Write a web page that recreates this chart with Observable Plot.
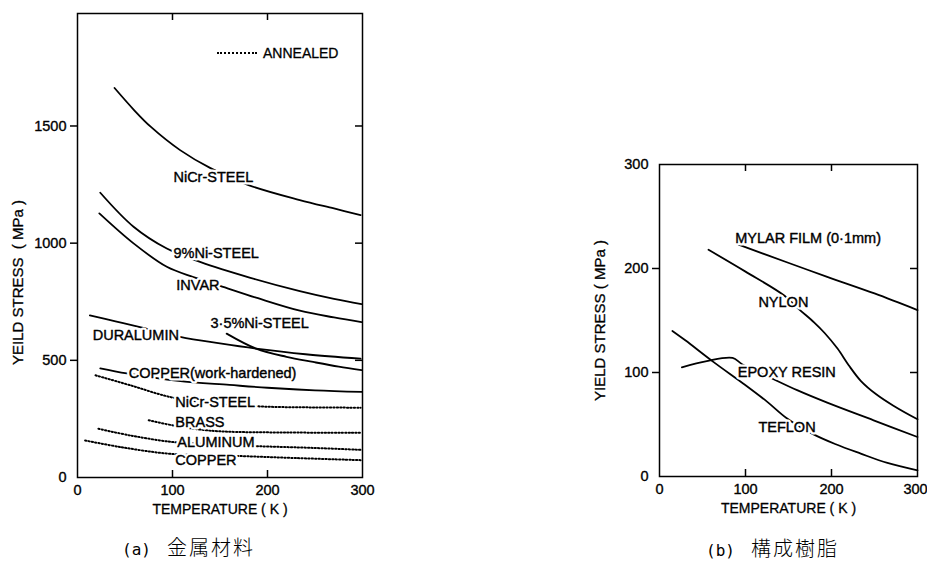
<!DOCTYPE html>
<html>
<head>
<meta charset="utf-8">
<script src="https://cdn.jsdelivr.net/npm/d3@7"></script>
<script src="https://cdn.jsdelivr.net/npm/@observablehq/plot@0.6"></script>
<style>
  body { margin: 0; background: #fff; }
  #wrap { position: relative; width: 927px; height: 562px; overflow: hidden; background: #fff;
          font-family: "Liberation Sans", Arial, sans-serif; color: #000; }
  #wrap svg { position: absolute; top: 0; }
  .legend { position: absolute; left: 217px; top: 45px; height: 16px; display: flex; align-items: center; font-size: 14px;
            -webkit-text-stroke: 0.3px #000; }
  .legend .dots { width: 40px; border-top: 2px dotted #000; margin-right: 6px; }
  .cap { position: absolute; white-space: nowrap; line-height: 24px; }
  .cap .tag { font-family: "DejaVu Sans Mono", "Liberation Mono", monospace; font-size: 16px; margin-right: 16px; }
  .cap .jp { font-family: "Noto Sans CJK JP", sans-serif; font-size: 20px; letter-spacing: 2px; font-weight: 300; }
</style>
</head>
<body>
<div id="wrap">
  <div class="legend"><span class="dots"></span><span>ANNEALED</span></div>
  <div class="cap" style="left:122px; top:535px;"><span class="tag">(a)</span><span class="jp">金属材料</span></div>
  <div class="cap" style="left:706px; top:536px;"><span class="tag">(b)</span><span class="jp">構成樹脂</span></div>
</div>
<script>
// ---------- (a) metals: temperature (K) vs yield stress (MPa) ----------
// solid curves
const nicrT = [39, 60, 77, 108, 140, 180, 234, 270, 298];
const nicrS = [1662, 1566, 1497, 1397, 1320, 1248, 1184, 1148, 1120];
const ni9T = [24, 59, 94, 129, 182, 234, 270, 299];
const ni9S = [1215, 1070, 977, 920, 852, 795, 762, 740];
const invarT = [23, 59, 94, 122, 150, 190, 234, 270, 299];
const invarS = [1127, 999, 899, 855, 818, 765, 712, 683, 663];
const duralT = [13, 40, 68, 108, 150, 188, 240, 298];
const duralS = [692, 666, 640, 600, 572, 550, 526, 507];
const ni35T = [157, 188, 220, 248, 275, 299];
const ni35S = [614, 550, 515, 493, 473, 458];
const cuHardT = [24, 52, 106, 160, 200, 250, 299];
const cuHardS = [466, 444, 412, 395, 383, 372, 365];
// dotted curves (annealed)
const nicrAnT = [19, 56, 98, 140, 194, 250, 298];
const nicrAnS = [436, 393, 343, 318, 303, 299, 298];
const brassT = [75, 101, 130, 155, 220, 298];
const brassS = [244, 222, 204, 196, 192, 191];
const alT = [22, 56, 101, 140, 187, 250, 298];
const alS = [208, 179, 151, 142, 134, 126, 118];
const cuT = [8, 45, 98, 168, 230, 298];
const cuS = [158, 130, 101, 92, 83, 74];

// curve labels for (a): text, temperature and stress at the label's left end
const labelsA = ["NiCr-STEEL", "9%Ni-STEEL", "INVAR", "DURALUMIN", "3·5%Ni-STEEL",
  "COPPER(work-hardened)", "NiCr-STEEL", "BRASS", "ALUMINUM", "COPPER"];
const labelsAT = [101, 101, 104, 16, 140, 54, 103, 103, 105, 103];
const labelsAS = [1282, 957, 820, 607, 658, 444, 320, 235, 151, 73];

// ---------- (b) synthetic resins ----------
const mylarT = [92, 148, 195, 250, 300];
const mylarS = [223, 206, 192, 176, 160];
const nylonT = [57, 100, 145, 162, 180, 192, 207, 220, 234, 252, 272, 300];
const nylonS = [218, 197, 174, 161, 148, 138, 123, 107, 92, 79, 68, 55];
const epoxyT = [26, 55, 85, 96, 129, 160, 195, 249, 300];
const epoxyS = [105, 111, 114, 108, 95, 83, 71, 54, 38];
const teflonT = [15, 30, 63, 98, 125, 148, 178, 205, 234, 265, 300];
const teflonS = [140, 131, 110, 89, 72, 56, 41, 31, 22, 13, 6];

const labelsB = ["MYLAR FILM (0·1mm)", "NYLON", "EPOXY RESIN", "TEFLON"];
const labelsBT = [88, 115, 91, 115];
const labelsBS = [229, 167, 100, 47];

// axis ticks
const xTicks = [0, 100, 200];
const xLastTick = [300];
const xInner = [100, 200];
const yTicksA = [0, 500, 1000, 1500];
const yInnerA = [500, 1000, 1500];
const yTicksB = [0, 100, 200, 300];
const yInnerB = [100, 200];

// ---------- helpers ----------
const rows = (name, T, S) => T.map((t, i) => ({name, T: t, S: S[i]}));
const labelRows = (names, T, S) => names.map((n, i) => ({name: n, T: T[i], S: S[i]}));

const solidA = [
  ...rows("NiCr", nicrT, nicrS), ...rows("9Ni", ni9T, ni9S), ...rows("Invar", invarT, invarS),
  ...rows("Dural", duralT, duralS), ...rows("3.5Ni", ni35T, ni35S), ...rows("CuHard", cuHardT, cuHardS)
];
const dottedA = [
  ...rows("NiCrAn", nicrAnT, nicrAnS), ...rows("Brass", brassT, brassS),
  ...rows("Al", alT, alS), ...rows("Cu", cuT, cuS)
];
const solidB = [
  ...rows("Mylar", mylarT, mylarS), ...rows("Nylon", nylonT, nylonS),
  ...rows("Epoxy", epoxyT, epoxyS), ...rows("Teflon", teflonT, teflonS)
];

const font = {fontFamily: "'Liberation Sans', Arial, sans-serif", fontSize: "14px", color: "#000", background: "transparent", overflow: "visible"};
const fmt = d => String(d);
const bold = {textStroke: "#000", textStrokeWidth: 0.35};

function framedMarks({plotW, plotH, yTicks, yInner, yLabel, yLabelDy, labels, lines, dotted, lastDx}) {
  const lineOpts = {x: "T", y: "S", z: "name", curve: "catmull-rom", stroke: "#000", strokeWidth: 1.8};
  return [
    Plot.line(lines, lineOpts),
    dotted ? Plot.line(dotted, {...lineOpts, strokeWidth: 2, strokeDasharray: "1.3,2.1"}) : null,
    // white halo opens a gap in the curve under each label
    Plot.text(labels, {x: "T", y: "S", text: "name", textAnchor: "start", fontSize: 14.5, fill: "#fff", stroke: "#fff", strokeWidth: 5}),
    Plot.text(labels, {x: "T", y: "S", text: "name", textAnchor: "start", fontSize: 14.5, fill: "#000", stroke: "#000", strokeWidth: 0.4}),
    Plot.frame({stroke: "#000", strokeWidth: 1.5}),
    // tick labels
    Plot.axisX(xTicks, {anchor: "bottom", tickSize: 0, tickPadding: 7, label: null, fontSize: 14.5, tickFormat: fmt, ...bold}),
    Plot.axisX(xLastTick, {anchor: "bottom", tickSize: 0, tickPadding: 7, label: null, fontSize: 14.5, tickFormat: fmt, dx: lastDx, ...bold}),
    Plot.axisY(yTicks, {anchor: "left", tickSize: 0, tickPadding: 11, label: null, fontSize: 14.5, tickFormat: fmt, ...bold}),
    // outward ticks on the left, inward ticks on the other three sides
    Plot.tickY(yInner, {y: d => d, insetLeft: -7, insetRight: plotW, strokeWidth: 1.5}),
    Plot.tickY(yInner, {y: d => d, insetLeft: plotW - 7, strokeWidth: 1.5}),
    Plot.tickX(xInner, {x: d => d, insetTop: plotH - 7, strokeWidth: 1.5}),
    Plot.tickX(xInner, {x: d => d, insetBottom: plotH - 7, strokeWidth: 1.5}),
    // axis titles
    Plot.text(["TEMPERATURE ( K )"], {frameAnchor: "bottom", textAnchor: "middle", dy: 36, fontSize: 14, fill: "#000", stroke: "#000", strokeWidth: 0.3}),
    Plot.text([yLabel], {frameAnchor: "left", textAnchor: "middle", rotate: -90, dx: -59, dy: yLabelDy, fontSize: 15, fill: "#000", stroke: "#000", strokeWidth: 0.3})
  ];
}

// (a)
const wA = 380, hA = 530, mlA = 77, mrA = 18, mtA = 13, mbA = 53;
const plotA = Plot.plot({
  width: wA, height: hA,
  marginLeft: mlA, marginRight: mrA, marginTop: mtA, marginBottom: mbA,
  x: {domain: [0, 300]},
  y: {domain: [0, 1980]},
  style: font,
  marks: framedMarks({
    plotW: wA - mlA - mrA, plotH: hA - mtA - mbA,
    yTicks: yTicksA, yInner: yInnerA,
    yLabel: "YEILD STRESS  ( MPa )", yLabelDy: 37,
    labels: labelRows(labelsA, labelsAT, labelsAS),
    lines: solidA, dotted: dottedA, lastDx: 0
  })
});
plotA.style.left = "0px";

// (b)
const wB = 387, hB = 530, mlB = 119, mrB = 10, mtB = 164, mbB = 54;
const plotB = Plot.plot({
  width: wB, height: hB,
  marginLeft: mlB, marginRight: mrB, marginTop: mtB, marginBottom: mbB,
  x: {domain: [0, 300]},
  y: {domain: [0, 300]},
  style: font,
  marks: framedMarks({
    plotW: wB - mlB - mrB, plotH: hB - mtB - mbB,
    yTicks: yTicksB, yInner: yInnerB,
    yLabel: "YIELD STRESS ( MPa )", yLabelDy: 0,
    labels: labelRows(labelsB, labelsBT, labelsBS),
    lines: solidB, dotted: null, lastDx: -2
  })
});
plotB.style.left = "540px";

const wrap = document.getElementById("wrap");
wrap.appendChild(plotA);
wrap.appendChild(plotB);
</script>
</body>
</html>
